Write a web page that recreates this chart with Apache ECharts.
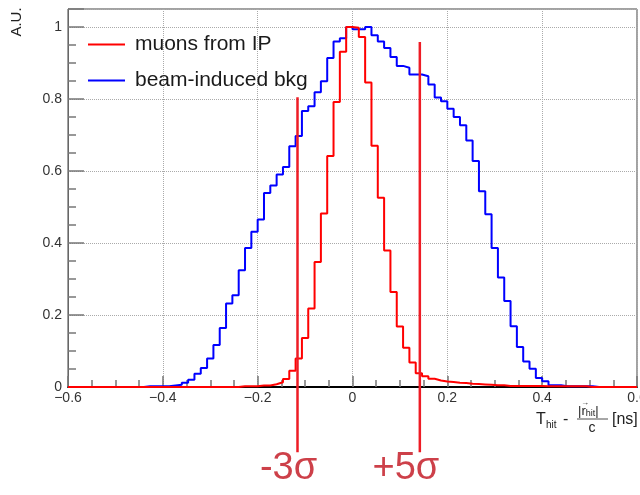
<!DOCTYPE html>
<html>
<head>
<meta charset="utf-8">
<title>Hit time distribution</title>
<script src="https://cdn.jsdelivr.net/npm/echarts@6/dist/echarts.min.js"></script>
<style>
  html, body { margin: 0; padding: 0; background: #fff; }
  #chart { width: 640px; height: 495px; }
</style>
</head>
<body>
<div id="chart"></div>
<script>
// Histogram binning (ns)
const binMin = -0.6;
const binMax = 0.6;
const nBins = 90;

const seriesNames = ['muons from IP', 'beam-induced bkg'];

// Normalised bin contents, muons from the interaction point
const muonValues = [
  0, 0, 0, 0, 0, 0, 0, 0, 0, 0,
  0, 0, 0, 0, 0, 0, 0, 0, 0, 0,
  0, 0, 0, 0, 0, 0, 0, 0.002, 0.002, 0.002,
  0.004, 0.004, 0.0075, 0.013, 0.022, 0.045, 0.079, 0.136, 0.218, 0.347,
  0.482, 0.642, 0.792, 0.931, 1.0, 0.998, 0.972, 0.846, 0.670, 0.526,
  0.379, 0.264, 0.168, 0.109, 0.068, 0.038, 0.030, 0.023, 0.018, 0.015,
  0.014, 0.012, 0.011, 0.009, 0.008, 0.007, 0.006, 0.005, 0.005, 0.003,
  0.003, 0.003, 0.003, 0.003, 0.003, 0.002, 0.002, 0.002, 0.002, 0.002,
  0.002, 0.002, 0, 0, 0, 0, 0, 0, 0, 0
];

// Normalised bin contents, beam-induced background
const bkgValues = [
  0, 0, 0, 0, 0, 0, 0, 0, 0, 0,
  0, 0, 0.002, 0.002, 0.002, 0.002, 0.004, 0.006, 0.012, 0.020,
  0.037, 0.053, 0.079, 0.117, 0.164, 0.232, 0.255, 0.324, 0.386, 0.431,
  0.465, 0.539, 0.560, 0.590, 0.611, 0.669, 0.697, 0.767, 0.780, 0.819,
  0.849, 0.914, 0.960, 0.969, 1.0, 0.994, 0.994, 1.0, 0.977, 0.960,
  0.942, 0.917, 0.892, 0.887, 0.868, 0.868, 0.863, 0.840, 0.804, 0.794,
  0.773, 0.750, 0.727, 0.685, 0.628, 0.544, 0.480, 0.386, 0.304, 0.239,
  0.169, 0.111, 0.071, 0.051, 0.025, 0.016, 0.005, 0.005, 0.002, 0.002,
  0.002, 0.002, 0.002, 0, 0, 0, 0, 0, 0, 0
];

// Timing cuts
const cutNames = ['-3σ', '+5σ'];
const cutX = [-0.116, 0.142];
const cutTop = [0.805, 0.958];
const cutBottom = -0.181;

const FONT = '"Liberation Sans", Arial, Helvetica, sans-serif';
const RED = '#ff0000';
const BLUE = '#0000ff';
const CUT_RED = '#ee1c25';
const LABEL_RED = '#c0101c';
// horizontal nudge of each cut caption relative to its line (px)
const CUT_LABEL_SHIFT = [-9, -14];

// Turn bin contents into step-line vertices (left edge of every bin + last right edge)
function stepPoints(values) {
  const w = (binMax - binMin) / nBins;
  const pts = values.map((v, i) => [binMin + i * w, v]);
  pts.push([binMax, values[values.length - 1]]);
  return pts;
}

function fmtX(v) {
  const r = Math.round(v * 10) / 10;
  if (Math.abs(r) < 1e-9) return '0';
  return (r < 0 ? '\u2212' : '') + Math.abs(r).toFixed(1);
}

function fmtY(v) {
  const k = v * 5;
  if (Math.abs(k - Math.round(k)) > 1e-6) return '';
  const r = Math.round(k) / 5;
  if (r === 0) return '0';
  if (r === 1) return '1';
  return r.toFixed(1);
}

const chart = echarts.init(document.getElementById('chart'), null, { renderer: 'canvas' });

const tickStyle = { color: '#777', width: 1.5 };
const gridLine = { show: true, lineStyle: { type: 'dotted', color: '#aaa', width: 1 } };

const cutLineSeries = cutX.map((x, i) => ({
  name: cutNames[i],
  type: 'line',
  data: [[x, cutBottom], [x, cutTop[i]]],
  symbol: 'none',
  clip: false,
  silent: true,
  z: 5,
  lineStyle: { color: CUT_RED, width: 2.5 },
  itemStyle: { color: CUT_RED }
}));

const option = {
  animation: false,
  backgroundColor: '#fff',
  textStyle: { fontFamily: FONT },
  grid: {
    left: 68, right: 3, top: 9, bottom: 108,
    containLabel: false,
    outerBoundsMode: 'none',
    show: true, borderColor: '#444', borderWidth: 1
  },
  legend: {
    data: seriesNames,
    orient: 'vertical',
    left: 88,
    top: 34,
    padding: 0,
    itemWidth: 37,
    itemHeight: 2,
    itemGap: 15,
    icon: 'rect',
    textStyle: { fontSize: 21, color: '#1a1a1a', fontFamily: FONT, padding: [0, 0, 0, 5] }
  },
  xAxis: {
    type: 'value',
    min: binMin,
    max: binMax,
    interval: 0.2,
    axisLine: { show: true, onZero: false, lineStyle: { color: '#000', width: 2 } },
    axisTick: { show: true, inside: true, length: 11, lineStyle: tickStyle },
    minorTick: { show: true, splitNumber: 4, length: 7, lineStyle: tickStyle },
    splitLine: gridLine,
    axisLabel: { formatter: fmtX, margin: 4, color: '#333', fontSize: 14, fontFamily: FONT }
  },
  yAxis: [
    {
      type: 'value',
      min: 0,
      max: 1.05,
      interval: 0.2,
      position: 'left',
      axisLine: { show: true, onZero: false, lineStyle: { color: '#666', width: 1 } },
      axisTick: { show: true, inside: true, length: 16, lineStyle: tickStyle },
      splitLine: gridLine,
      axisLabel: { formatter: fmtY, margin: 6, color: '#333', fontSize: 14, fontFamily: FONT }
    },
    {
      type: 'value',
      min: 0,
      max: 1.05,
      interval: 0.05,
      position: 'left',
      axisLine: { show: false, onZero: false },
      axisTick: { show: true, inside: true, length: 8, lineStyle: tickStyle },
      splitLine: { show: false },
      axisLabel: { show: false }
    }
  ],
  series: [
    {
      name: seriesNames[1],
      type: 'line',
      step: 'end',
      data: stepPoints(bkgValues),
      symbol: 'none',
      color: BLUE,
      lineStyle: { color: BLUE, width: 2 },
      z: 3
    },
    {
      name: seriesNames[0],
      type: 'line',
      step: 'end',
      data: stepPoints(muonValues),
      symbol: 'none',
      color: RED,
      lineStyle: { color: RED, width: 2 },
      z: 4
    },
    ...cutLineSeries,
    {
      name: 'cut labels',
      type: 'scatter',
      data: cutX.map((x, i) => ({
        value: [x, cutBottom],
        name: cutNames[i],
        label: { offset: [CUT_LABEL_SHIFT[i], -3] }
      })),
      symbolSize: 0,
      clip: false,
      silent: true,
      label: {
        show: true,
        position: 'bottom',
        distance: 0,
        formatter: '{b}',
        fontSize: 38,
        color: LABEL_RED,
        fontFamily: FONT
      }
    }
  ],
  graphic: [
    {
      type: 'text',
      x: 17, y: 22,
      rotation: Math.PI / 2,
      style: {
        text: 'A.U.', fontSize: 15, fill: '#222', fontFamily: FONT,
        align: 'center', verticalAlign: 'middle'
      }
    },
    {
      type: 'group',
      x: 536, y: 420,
      children: [
        { type: 'text', x: 0, y: 0, style: { text: 'T', fontSize: 16, fill: '#222', fontFamily: FONT, verticalAlign: 'middle' } },
        { type: 'text', x: 10, y: 5, style: { text: 'hit', fontSize: 10, fill: '#222', fontFamily: FONT, verticalAlign: 'middle' } },
        { type: 'text', x: 27, y: 0, style: { text: '-', fontSize: 16, fill: '#222', fontFamily: FONT, verticalAlign: 'middle' } },
        {
          type: 'text', x: 42, y: -9,
          style: {
            text: '{a||r}{s|hit}{a||}', verticalAlign: 'middle',
            rich: {
              a: { fontSize: 13, fill: '#222', fontFamily: FONT },
              s: { fontSize: 9, fill: '#222', fontFamily: FONT, padding: [6, 0, 0, 0] }
            }
          }
        },
        { type: 'text', x: 45, y: -17, style: { text: '\u2192', fontSize: 8, fill: '#222', fontFamily: FONT, verticalAlign: 'middle' } },
        { type: 'line', shape: { x1: 41, y1: -1, x2: 72, y2: -1 }, style: { stroke: '#222', lineWidth: 0.8 } },
        { type: 'text', x: 56, y: 8, style: { text: 'c', fontSize: 14, fill: '#222', fontFamily: FONT, align: 'center', verticalAlign: 'middle' } },
        { type: 'text', x: 76, y: 0, style: { text: '[ns]', fontSize: 16, fill: '#222', fontFamily: FONT, verticalAlign: 'middle' } }
      ]
    }
  ]
};

chart.setOption(option);
</script>
</body>
</html>
